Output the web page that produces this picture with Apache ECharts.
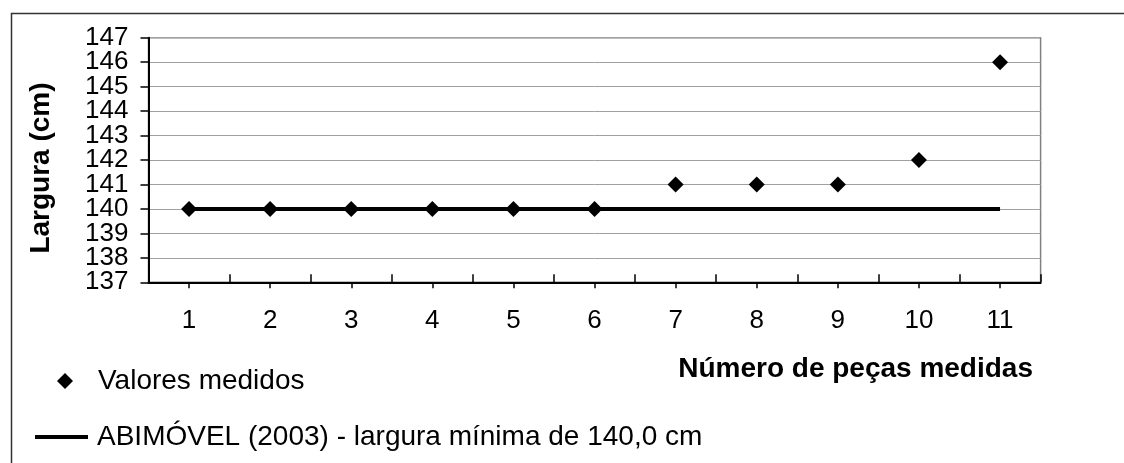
<!DOCTYPE html>
<html>
<head>
<meta charset="utf-8">
<script src="https://cdn.jsdelivr.net/npm/echarts@6/dist/echarts.min.js"></script>
<style>
html,body{margin:0;padding:0;background:#fff;}
#chart{width:1124px;height:463px;}
</style>
</head>
<body>
<div id="chart"></div>
<script>
var categories = ['1','2','3','4','5','6','7','8','9','10','11'];
var measured = [140,140,140,140,140,140,141,141,141,142,146];
var minimum = [140,140,140,140,140,140,140,140,140,140,140];
var yMin = 137, yMax = 147, yStep = 1;
var measuredName = 'Valores medidos';
var minimumName = 'ABIMÓVEL (2003) - largura mínima de 140,0 cm';
var xTitle = 'Número de peças medidas';
var yTitle = 'Largura (cm)';

var FONT = '"Liberation Sans", Arial, sans-serif';
var chart = echarts.init(document.getElementById('chart'), null, {renderer:'canvas'});

function yLabelAxis(parity, visibleAxis) {
  return {type: 'value', min: yMin, max: yMax, interval: yStep, position: 'left', offset: 0,
    axisLine: {show: visibleAxis, onZero: false, lineStyle: {color: '#000', width: 2}},
    axisTick: {show: visibleAxis, length: 8, lineStyle: {color: '#000', width: 1.5}},
    axisLabel: {fontSize: 26, color: '#000', margin: 20, fontFamily: FONT, showMinLabel: true, showMaxLabel: true,
      formatter: function (v) { return (Math.round(v - yMin) % 2 === parity) ? String(v) : ''; }},
    splitLine: {show: visibleAxis, lineStyle: {color: '#a0a0a0', width: 1}}};
}

chart.setOption({
  animation: false,
  backgroundColor: '#fff',
  textStyle: {fontFamily: FONT},
  grid: {left: 148.5, right: 83.4, top: 37.7, bottom: 180.7, show: true, borderColor: '#808080', borderWidth: 1.5, backgroundColor: 'transparent'},
  legend: [
    {data: [{name: measuredName, icon: 'diamond'}], left: 57, top: 367, padding: 0, itemWidth: 16, itemHeight: 16,
     textStyle: {fontSize: 28, color: '#000', fontFamily: FONT, padding: [0,0,0,20], lineHeight: 28}},
    {data: [{name: minimumName, icon: 'rect'}], left: 35, top: 423, padding: 0, itemWidth: 53, itemHeight: 4,
     textStyle: {fontSize: 28, color: '#000', fontFamily: FONT, padding: [0,0,0,4], lineHeight: 28}}
  ],
  xAxis: [
    {type: 'category', data: categories, boundaryGap: true, position: 'bottom',
     axisLine: {lineStyle: {color: '#000', width: 2}},
     axisTick: {show: true, inside: true, length: 8, lineStyle: {color: '#000', width: 1.5}},
     axisLabel: {fontSize: 26, color: '#000', margin: 26, fontFamily: FONT, interval: 0},
     splitLine: {show: false}},
    {type: 'category', data: categories, boundaryGap: true, position: 'bottom',
     axisLine: {show: false},
     axisTick: {show: true, alignWithLabel: true, inside: false, length: 6, lineStyle: {color: '#000', width: 1.5}},
     axisLabel: {show: false},
     splitLine: {show: false}}
  ],
  yAxis: [yLabelAxis(0, true), yLabelAxis(1, false)],
  graphic: [
    {type: 'rect', left: 9, top: 11, shape: {width: 1300, height: 600}, style: {fill: 'none', stroke: '#333', lineWidth: 1.5}, silent: true, z: -1},
    {type: 'text', x: 1033, y: 369, style: {text: xTitle, font: 'bold 28px ' + FONT, fill: '#000', textAlign: 'right', textVerticalAlign: 'middle'}},
    {type: 'text', x: 41, y: 168, rotation: Math.PI/2, style: {text: yTitle, font: 'bold 28px ' + FONT, fill: '#000', textAlign: 'center', textVerticalAlign: 'middle'}}
  ],
  series: [
    {name: minimumName, type: 'line', data: minimum, showSymbol: false, symbol: 'none',
     lineStyle: {color: '#000', width: 4}, itemStyle: {color: '#000'}, z: 2},
    {name: measuredName, type: 'scatter', data: measured, symbol: 'diamond', symbolSize: 16,
     itemStyle: {color: '#000', opacity: 1}, z: 3}
  ]
});
</script>
</body>
</html>
